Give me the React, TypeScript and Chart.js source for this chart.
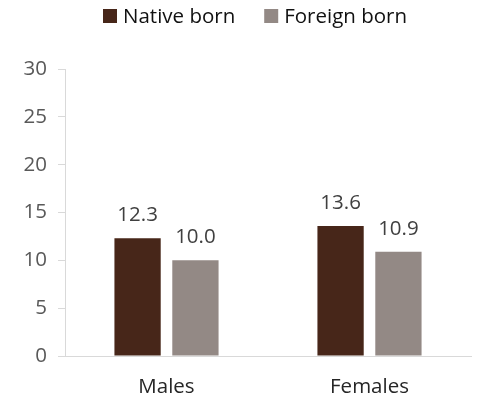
import React, { useEffect, useRef } from "react";
import { Chart, registerables } from "chart.js";

Chart.register(...registerables);

const categories = ["Males", "Females"];
const nativeBorn = [12.3, 13.6];
const foreignBorn = [10.0, 10.9];
const seriesNames = ["Native born", "Foreign born"];
const yTicks = [0, 5, 10, 15, 20, 25, 30];

const FONT = "'Open Sans', 'Liberation Sans', sans-serif";
const FS = 20.5;

const dataLabelPlugin = {
  id: "dataLabels",
  afterDatasetsDraw(chart: any) {
    const ctx = chart.ctx;
    ctx.save();
    ctx.font = `${FS}px ${FONT}`;
    ctx.fillStyle = "#404040";
    ctx.textAlign = "center";
    ctx.textBaseline = "alphabetic";
    chart.data.datasets.forEach((ds: any, i: number) => {
      const meta = chart.getDatasetMeta(i);
      meta.data.forEach((bar: any, j: number) => {
        ctx.fillText(Number(ds.data[j]).toFixed(1), bar.x, bar.y - 17);
      });
    });
    ctx.restore();
  },
};

const customLegend = {
  id: "customLegend",
  afterDraw(chart: any) {
    const ctx = chart.ctx;
    ctx.save();
    ctx.font = `${FS}px ${FONT}`;
    ctx.textBaseline = "middle";
    ctx.textAlign = "left";
    let x = 103;
    const boxY = 9;
    const box = 14;
    chart.data.datasets.forEach((ds: any) => {
      ctx.fillStyle = ds.backgroundColor;
      ctx.fillRect(x, boxY, box, box);
      ctx.fillStyle = "#111111";
      const tx = x + box + 6;
      ctx.fillText(ds.label, tx, boxY + box / 2 + 1);
      x = tx + ctx.measureText(ds.label).width + 29;
    });
    ctx.restore();
  },
};

export default function App() {
  const ref = useRef<HTMLCanvasElement>(null);
  useEffect(() => {
    const chart = new Chart(ref.current!, {
      type: "bar",
      data: {
        labels: categories,
        datasets: [
          { label: seriesNames[0], data: nativeBorn, backgroundColor: "#472619", categoryPercentage: 0.57, barPercentage: 0.8 },
          { label: seriesNames[1], data: foreignBorn, backgroundColor: "#938985", categoryPercentage: 0.57, barPercentage: 0.8 },
        ],
      },
      options: {
        animation: false,
        responsive: false,
        maintainAspectRatio: false,
        layout: { padding: { left: 0, right: 6, top: 69, bottom: 3 } },
        plugins: {
          legend: { display: false },
          tooltip: { enabled: false },
        },
        scales: {
          x: {
            grid: { display: false, drawTicks: false },
            border: { display: true, color: "#d9d9d9", width: 1 },
            ticks: { color: "#262626", font: { family: FONT, size: FS }, padding: 19 },
            afterFit(scale: any) {
              scale.height = 43;
            },
          },
          y: {
            min: 0,
            max: 30,
            afterBuildTicks(scale: any) {
              scale.ticks = yTicks.map((v) => ({ value: v }));
            },
            afterFit(scale: any) {
              scale.width = 65;
            },
            grid: { display: true, drawOnChartArea: false, drawTicks: true, tickLength: 7, color: "#d9d9d9" },
            border: { display: true, color: "#d9d9d9", width: 1 },
            ticks: { color: "#595959", font: { family: FONT, size: FS }, padding: 11 },
          },
        },
      },
      plugins: [dataLabelPlugin, customLegend],
    } as any);
    return () => chart.destroy();
  }, []);
  return (
    <div style={{ position: "fixed", left: 0, top: 0, width: 477, height: 402, background: "#fff" }}>
      <canvas ref={ref} width={477} height={402} style={{ width: 477, height: 402 }} />
    </div>
  );
}
